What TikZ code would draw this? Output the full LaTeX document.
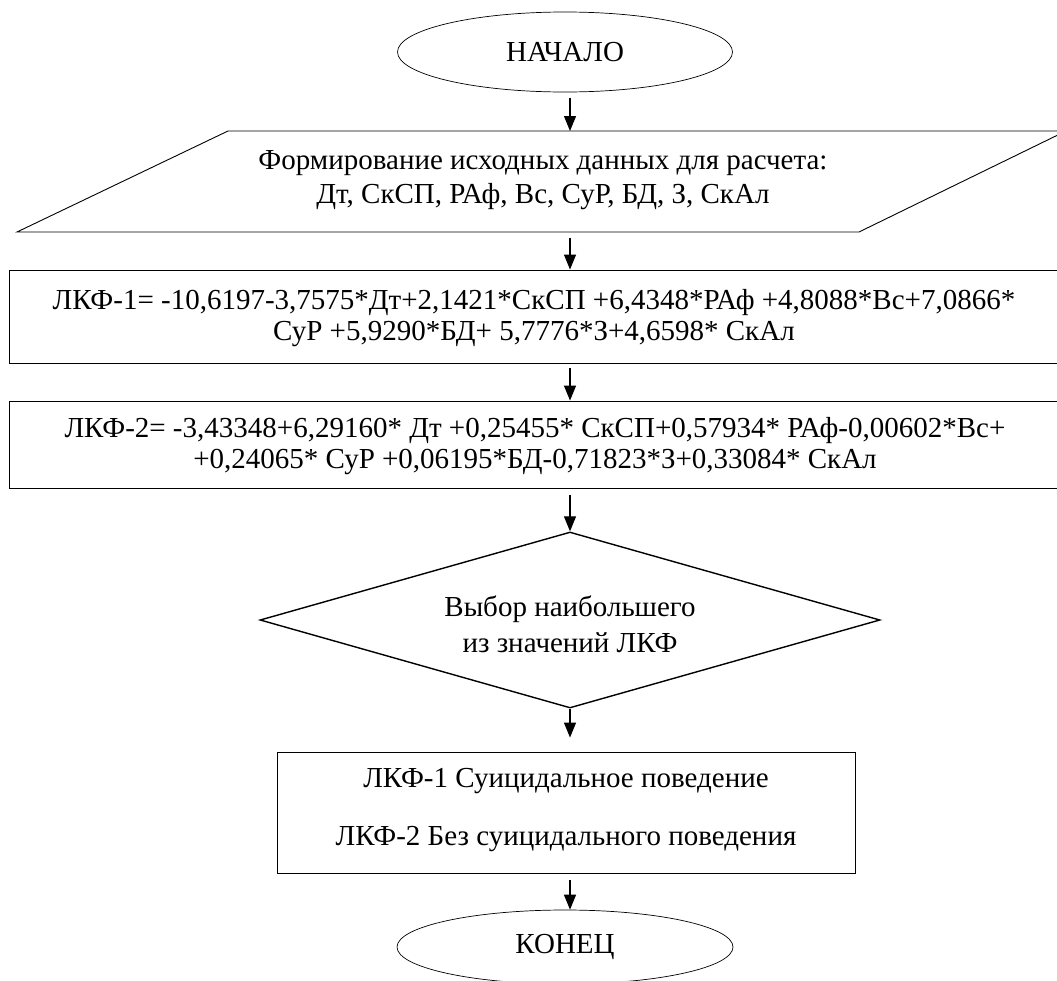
\documentclass[tikz,border=0pt]{standalone}
\usepackage{fontspec}
\setmainfont{Liberation Serif}
\usetikzlibrary{shapes.geometric,arrows.meta}
\tikzset{
  every node/.style={font=\fontsize{29}{31}\selectfont, align=center, inner sep=0pt},
  term/.style={ellipse, draw, line width=0.7pt},
  procbox/.style={rectangle, draw, line width=0.9pt},
  decis/.style={diamond, draw, line width=1.4pt},
  arr/.style={line width=1.2pt, -{Triangle[length=15pt,width=12pt]}},
}
\begin{document}
\begin{tikzpicture}[x=1pt,y=-1pt]
\useasboundingbox (0,0) rectangle (1057,980);
% start
\node[term, minimum width=335pt, minimum height=80pt] (start) at (565,52) {НАЧАЛО};
% input parallelogram
\coordinate (pTL) at (228,131);
\coordinate (pTR) at (1066,131);
\coordinate (pBR) at (859,232);
\coordinate (pBL) at (17,232);
\draw[line width=0.9pt] (pTL) -- (pTR) -- (pBR) -- (pBL) -- cycle;
\node (inp) at (543,180) {Формирование исходных данных для расчета:\\[3pt]Дт, СкСП, РАф, Вс, СуР, БД, З, СкАл};
\coordinate (inTop) at (570,131);
\coordinate (inBot) at (570,232);
% box 1
\node[procbox, minimum width=1051pt, minimum height=93pt] (b1) at (534.5,316.5) {};
\node (t1) at (534,318) {ЛКФ-1= -10,6197-3,7575*Дт+2,1421*СкСП +6,4348*РАф +4,8088*Вс+7,0866*\\СуР +5,9290*БД+ 5,7776*З+4,6598* СкАл};
% box 2
\node[procbox, minimum width=1051pt, minimum height=87pt] (b2) at (534.5,444.5) {};
\node (t2) at (535,446) {ЛКФ-2= -3,43348+6,29160* Дт +0,25455* СкСП+0,57934* РАф-0,00602*Вс+\\+0,24065* СуР +0,06195*БД-0,71823*З+0,33084* СкАл};
% decision
\node[decis, minimum width=620pt, minimum height=176pt] (d) at (570,620) {};
\node (dt) at (570,624) {Выбор наибольшего\\[5pt]из значений ЛКФ};
% box 3
\node[procbox, minimum width=578pt, minimum height=121pt] (b3) at (566,812.5) {};
\node (t3) at (566,810) {ЛКФ-1 Суицидальное поведение\\[27pt]ЛКФ-2 Без суицидального поведения};
% end
\node[term, minimum width=336pt, minimum height=74pt] (end) at (565,947) {КОНЕЦ};
% arrows
\draw[arr, shorten <=6pt] (start.south -| inTop) -- (inTop);
\draw[arr, shorten <=6pt] (inBot) -- (b1.north -| inBot);
\draw[arr, shorten <=5pt] (b1.south -| inBot) -- (b2.north -| inBot);
\draw[arr, shorten <=7pt] (b2.south -| inBot) -- (d.north);
\draw[arr, shorten >=14pt] (d.south) -- (b3.north -| d.south);
\draw[arr, shorten <=7pt] (b3.south -| d.south) -- (end.north -| d.south);
\end{tikzpicture}
\end{document}
